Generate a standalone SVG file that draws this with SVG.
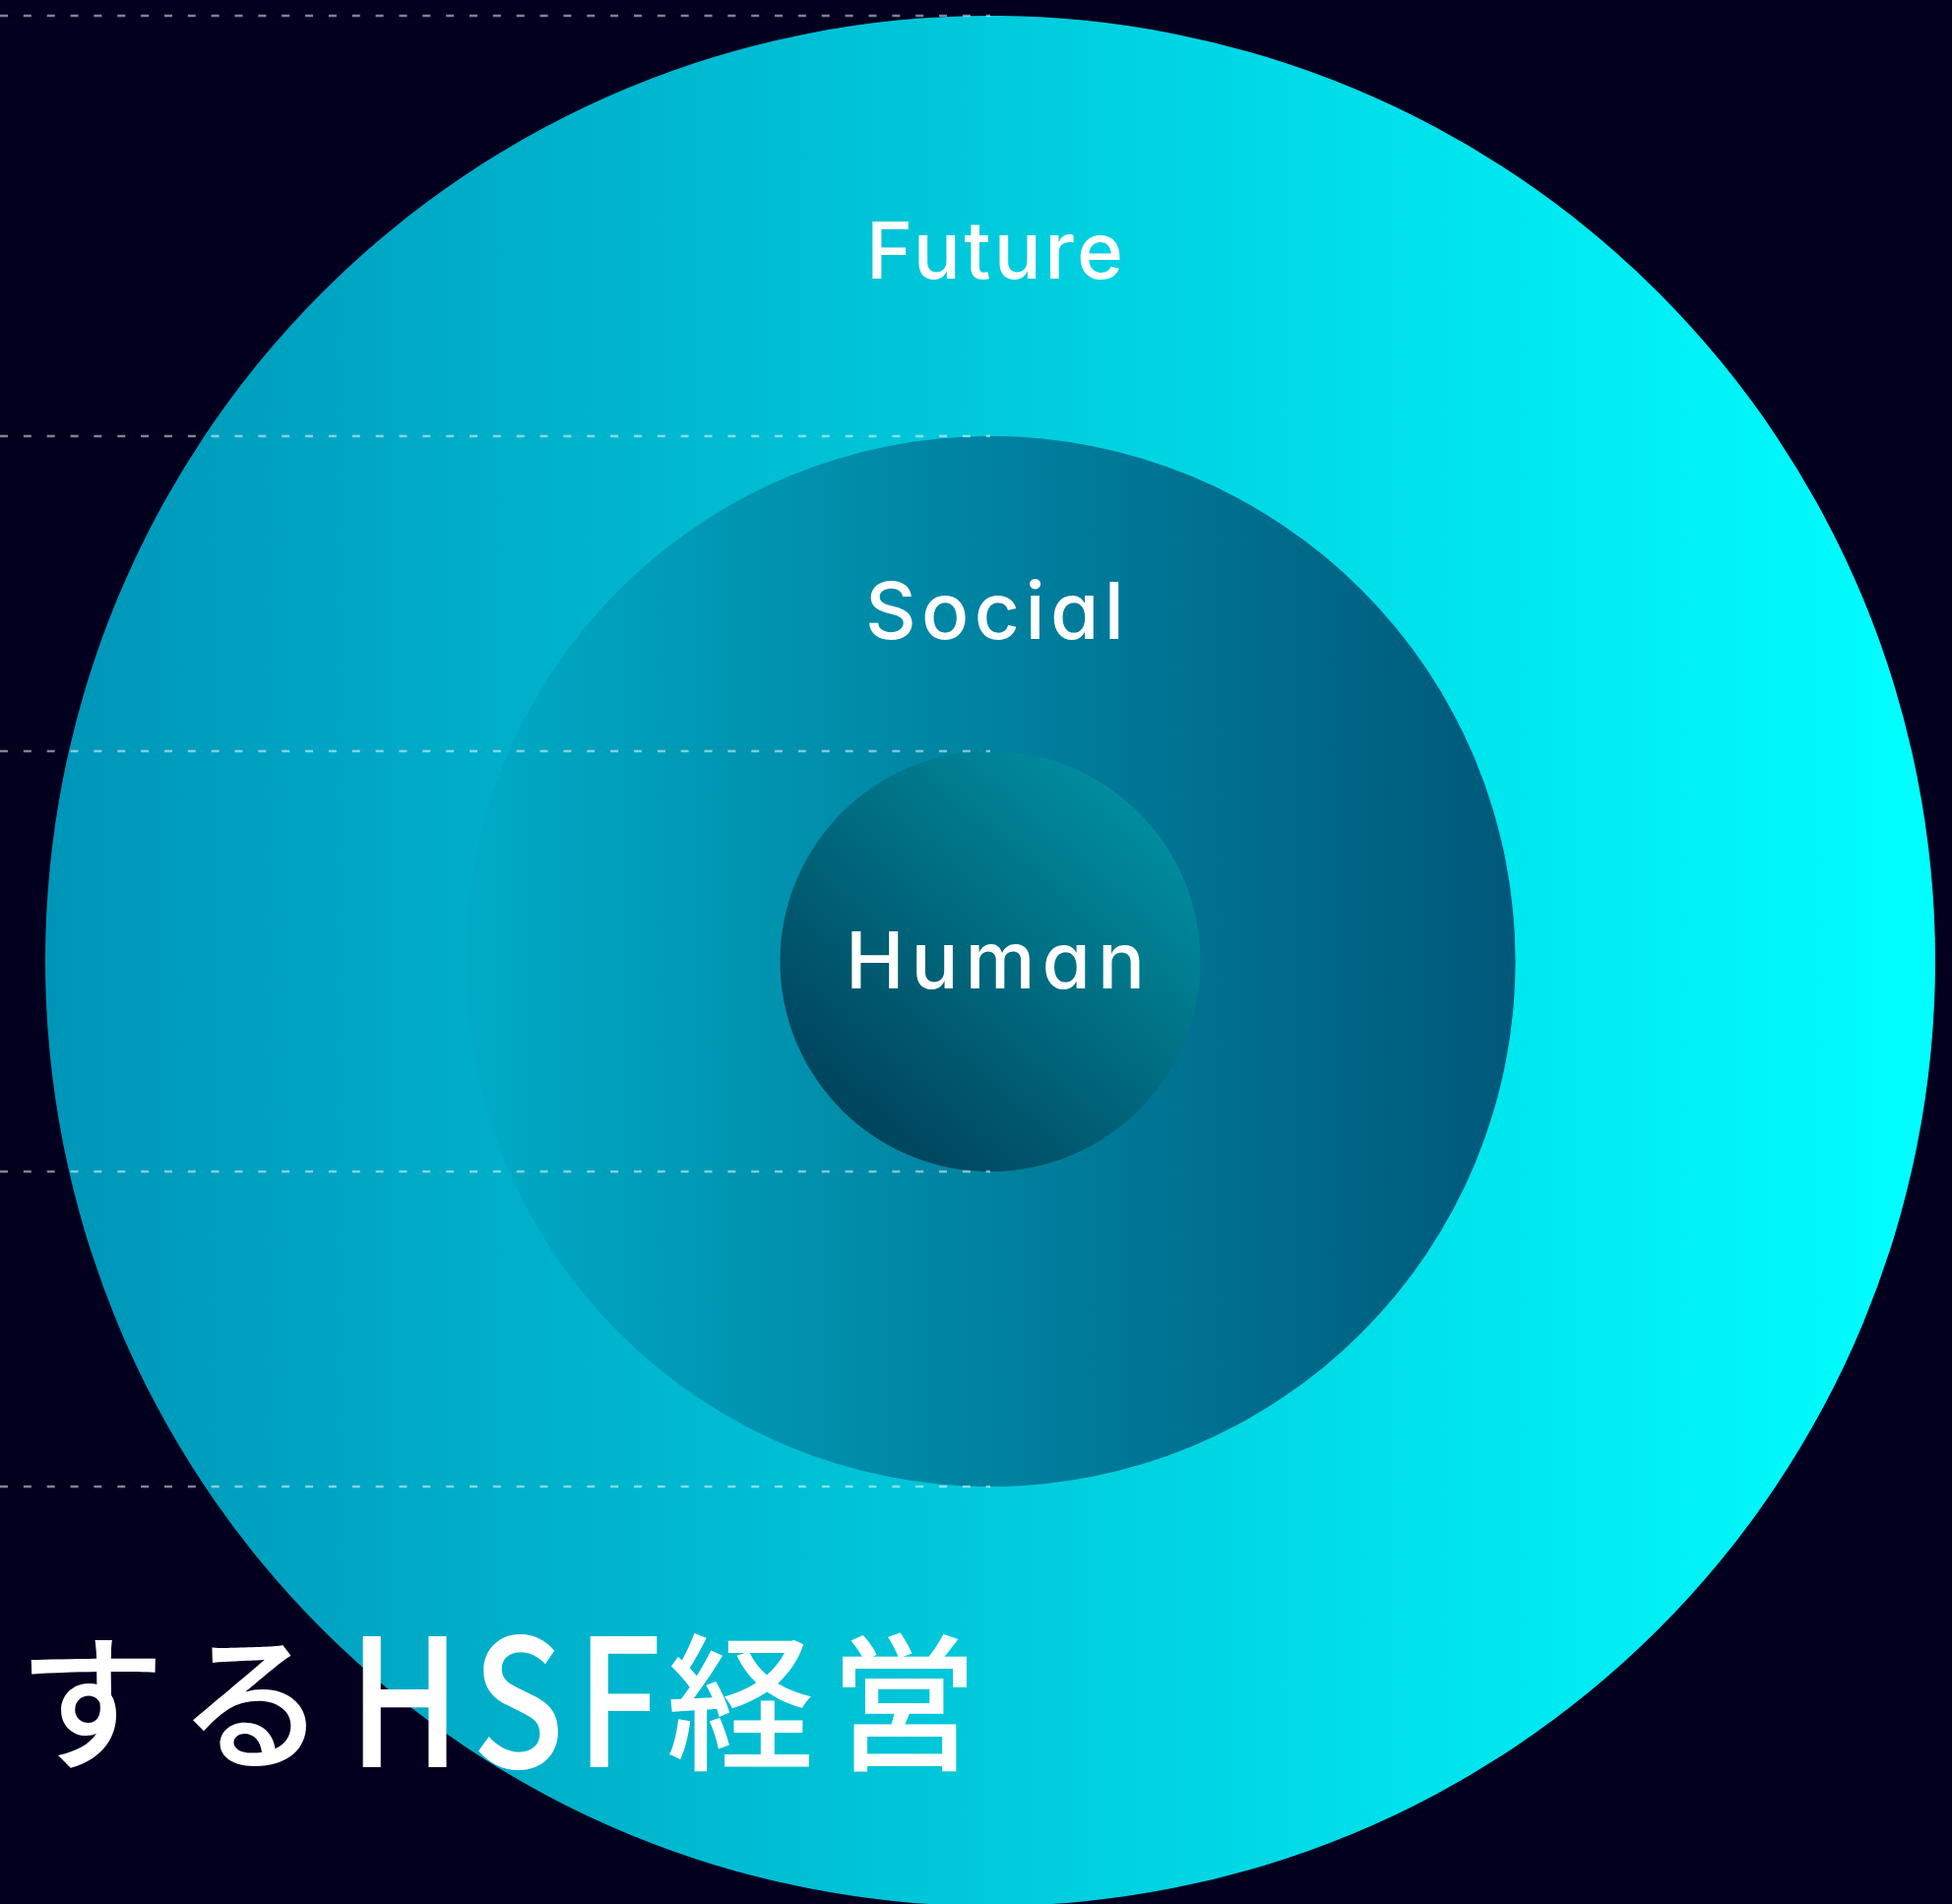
<svg xmlns="http://www.w3.org/2000/svg" width="1983" height="1934" viewBox="0 0 1983 1934">
  <defs>
    <linearGradient id="gFuture" gradientUnits="userSpaceOnUse" x1="46" y1="0" x2="1966" y2="0">
      <stop offset="0" stop-color="#0095b8"/>
      <stop offset="1" stop-color="#00ffff"/>
    </linearGradient>
    <linearGradient id="gSocial" gradientUnits="userSpaceOnUse" x1="473" y1="0" x2="1540" y2="0">
      <stop offset="0" stop-color="#00abc6"/>
      <stop offset="1" stop-color="#00587a"/>
    </linearGradient>
    <linearGradient id="gHuman" x1="0.15" y1="0.95" x2="0.85" y2="0.15">
      <stop offset="0" stop-color="#003f58"/>
      <stop offset="1" stop-color="#008c9e"/>
    </linearGradient>
    <style>
      .label { font-family: "Inter", "Liberation Sans", sans-serif; font-weight: 500; font-size: 80px; fill: #ffffff; font-feature-settings: "cv11" 1; }
      .guide { stroke: #ffffff; stroke-opacity: 0.5; stroke-width: 2.5; stroke-dasharray: 8 15.85; fill: none; }
      .title { font-family: "Noto Sans CJK JP", "Noto Sans", sans-serif; font-weight: 500; fill: #ffffff; text-anchor: middle; }
    </style>
  </defs>
  <rect x="0" y="0" width="1983" height="1934" fill="#03001f"/>

  <g id="future">
    <circle cx="1006" cy="976" r="960" fill="url(#gFuture)"/>
    <text class="label" x="880" y="283" textLength="261" lengthAdjust="spacing">Future</text>
  </g>
  <g id="social">
    <circle cx="1006" cy="976.5" r="533.5" fill="url(#gSocial)"/>
    <text class="label" x="879" y="649" textLength="263" lengthAdjust="spacing">Social</text>
  </g>
  <g id="human">
    <circle cx="1006" cy="976.5" r="213.5" fill="url(#gHuman)"/>
    <text class="label" x="859" y="1004" textLength="304" lengthAdjust="spacing">Human</text>
  </g>

  <g id="connectors">
    <line class="guide" x1="0" y1="16" x2="1006" y2="16"/>
    <line class="guide" x1="0" y1="443" x2="1006" y2="443"/>
    <line class="guide" x1="0" y1="763" x2="1006" y2="763"/>
    <line class="guide" x1="0" y1="1190" x2="1006" y2="1190"/>
    <line class="guide" x1="0" y1="1510" x2="1006" y2="1510"/>
  </g>

  <g id="title">
    <text class="title" font-size="150" x="93 256" y="1786">する</text>
    <text class="title" font-size="180" transform="scale(0.86,1)" x="478 612 731" y="1795">HSF</text>
    <text class="title" font-size="150" x="752 918" y="1786">経営</text>
  </g>
</svg>
